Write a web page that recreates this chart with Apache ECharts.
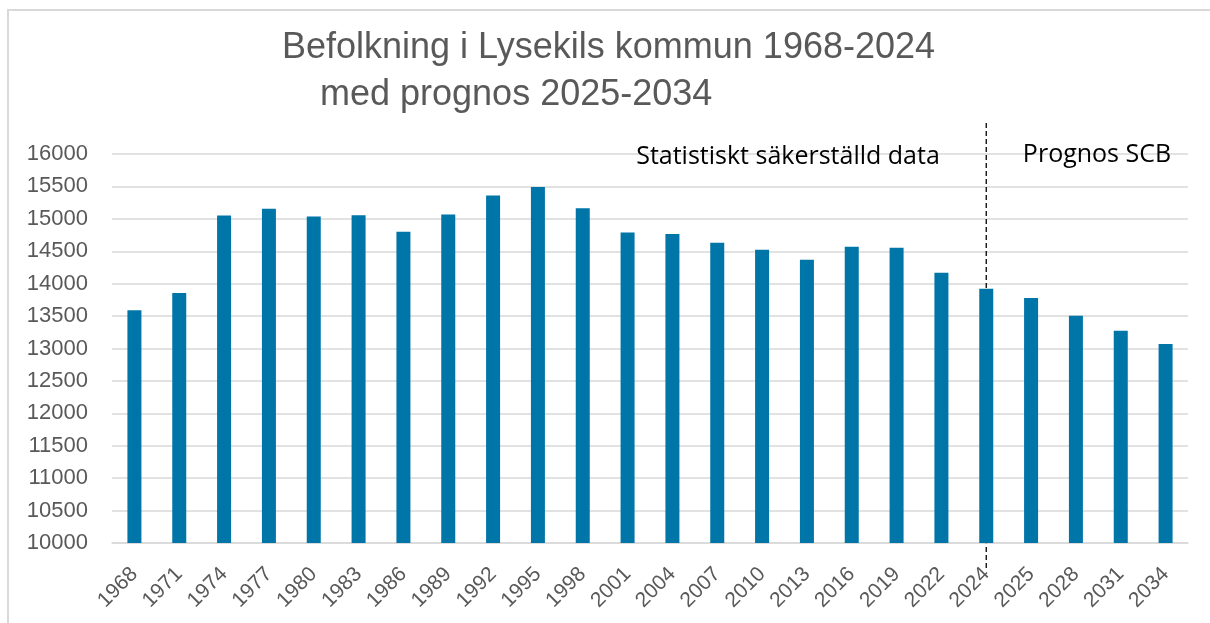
<!DOCTYPE html>
<html style="height: 100%">
<head>
<meta charset="utf-8">
<script src="https://cdn.jsdelivr.net/npm/echarts@6/dist/echarts.min.js"></script>
<title>Befolkning i Lysekils kommun</title>
</head>
<body style="height: 100%; margin: 0; background: #fff">
<div id="container" style="width: 1210px; height: 623px"></div>
<script type="text/javascript">

// categories (years)
let years = ['1968','1971','1974','1977','1980','1983','1986','1989','1992','1995',
             '1998','2001','2004','2007','2010','2013','2016','2019','2022','2024',
             '2025','2028','2031','2034'];

// population
let population = [13590, 13855, 15050, 15155, 15035, 15055, 14800, 15065, 15360, 15490,
                  15165, 14790, 14765, 14630, 14525, 14370, 14570, 14555, 14170, 13920,
                  13780, 13505, 13275, 13070];

// y axis
let yMin = 10000, yMax = 16000, yStep = 500;

// where the forecast starts
let splitYear = '2024';

let labelGray = '#595959';
let gridGray = '#d9d9d9';

let dom = document.getElementById('container');
let chart = echarts.init(dom, null, {renderer: 'canvas'});

chart.setOption({
    animation: false,
    title: [
        {
            text: 'Befolkning i Lysekils kommun 1968-2024',
            left: 277, top: 25,
            textStyle: {fontFamily: 'Liberation Sans', fontWeight: 'normal', fontSize: 36, color: labelGray}
        },
        {
            text: 'med prognos 2025-2034',
            left: 315, top: 72,
            textStyle: {fontFamily: 'Liberation Sans', fontWeight: 'normal', fontSize: 36, color: labelGray}
        }
    ],
    grid: {left: 112, right: 22, top: 154, bottom: 80, containLabel: false},
    xAxis: {
        type: 'category',
        data: years,
        axisLine: {show: true, lineStyle: {color: gridGray, width: 1.5}},
        axisTick: {show: false},
        axisLabel: {
            rotate: 45, interval: 0, margin: 28,
            fontFamily: 'Liberation Sans', fontSize: 21, color: labelGray
        }
    },
    yAxis: {
        type: 'value',
        min: yMin, max: yMax, interval: yStep,
        axisLine: {show: false},
        axisTick: {show: false},
        axisLabel: {
            fontFamily: 'Liberation Sans', fontSize: 22, color: labelGray, margin: 24,
            formatter: function (v) { return String(v); }
        },
        splitLine: {lineStyle: {color: gridGray, width: 1.5}}
    },
    series: [{
        type: 'bar',
        data: population,
        barWidth: 14,
        itemStyle: {color: '#0075a8'}
    }]
});

// dashed divider at 2024 and the two annotations
let xSplit = chart.convertToPixel({xAxisIndex: 0}, splitYear);
let yBottom = chart.convertToPixel({yAxisIndex: 0}, yMin);
let yTop = chart.convertToPixel({yAxisIndex: 0}, yMax);

chart.setOption({
    graphic: [
        {
            type: 'rect', silent: true,
            shape: {x: 8, y: 10, width: 1240, height: 640},
            style: {fill: 'none', stroke: gridGray, lineWidth: 2}
        },
        {
            type: 'line', silent: true,
            shape: {x1: xSplit, y1: yTop - 31, x2: xSplit, y2: yBottom + 25},
            style: {stroke: '#000', lineWidth: 1.3, lineDash: [5, 3]}
        },
        {
            type: 'text', silent: true,
            x: 788, y: yTop + 3,
            style: {text: 'Statistiskt säkerställd data', font: '25px "Open Sans"',
                    fill: '#000', textAlign: 'center', textVerticalAlign: 'middle'}
        },
        {
            type: 'text', silent: true,
            x: 1097, y: yTop + 1,
            style: {text: 'Prognos SCB', font: '25px "Open Sans"',
                    fill: '#000', textAlign: 'center', textVerticalAlign: 'middle'}
        }
    ]
});

</script>
</body>
</html>
